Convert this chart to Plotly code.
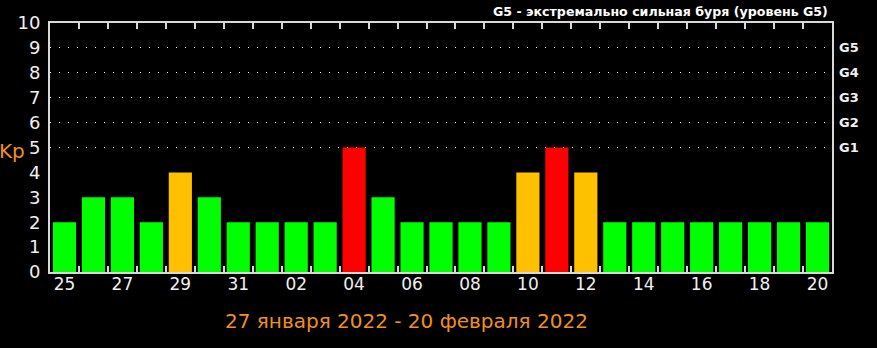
import plotly.graph_objects as go

dates = ["2022-01-25", "2022-01-26", "2022-01-27", "2022-01-28", "2022-01-29", "2022-01-30",
         "2022-01-31", "2022-02-01", "2022-02-02", "2022-02-03", "2022-02-04", "2022-02-05",
         "2022-02-06", "2022-02-07", "2022-02-08", "2022-02-09", "2022-02-10", "2022-02-11",
         "2022-02-12", "2022-02-13", "2022-02-14", "2022-02-15", "2022-02-16", "2022-02-17",
         "2022-02-18", "2022-02-19", "2022-02-20"]
kp = [2, 3, 3, 2, 4, 3, 2, 2, 2, 2, 5, 3, 2, 2, 2, 2, 4, 5, 4, 2, 2, 2, 2, 2, 2, 2, 2]
g_levels = [5, 6, 7, 8, 9]
g_labels = ["G1", "G2", "G3", "G4", "G5"]
y_ticks = list(range(0, 11))

GREEN, ORANGE, RED = "#00ff00", "#ffc000", "#ff0000"
ACCENT = "#f0901e"


def color_for(v):
    if v >= 5:
        return RED
    if v >= 4:
        return ORANGE
    return GREEN


fig = go.Figure()
fig.add_trace(go.Bar(
    x=dates, y=kp,
    marker=dict(color=[color_for(v) for v in kp], line=dict(width=0)),
    hoverinfo="x+y",
))
# invisible companion trace so the overlay axes (labels / G-levels) are drawn
fig.add_trace(go.Scatter(
    x=dates, y=kp, xaxis="x2", yaxis="y2",
    mode="markers", marker=dict(opacity=0), hoverinfo="skip",
))

axis_line = "#d8d8d8"
x_range = ["2022-01-24 12:00", "2022-02-20 12:00"]
fig.update_layout(
    width=877, height=348,
    paper_bgcolor="black", plot_bgcolor="black",
    margin=dict(l=50, r=45, t=17, b=76),
    showlegend=False,
    bargap=0.2,
    font=dict(family="DejaVu Sans", color="white"),
    xaxis=dict(
        type="date", range=x_range,
        tick0="2022-01-24 12:00", dtick=86400000,
        ticks="inside", ticklen=6, tickcolor=axis_line, tickwidth=1.5,
        showticklabels=False,
        showgrid=False, zeroline=False,
        showline=True, linecolor=axis_line, linewidth=2, mirror="allticks",
    ),
    xaxis2=dict(
        type="date", range=x_range, overlaying="x", side="bottom", anchor="y",
        tickvals=dates[::2], tickformat="%d", ticks="",
        tickfont=dict(size=17, color="#f0f0f0"),
        showgrid=False, zeroline=False, showline=False,
    ),
    yaxis=dict(
        range=[0, 10], tickvals=y_ticks, ticks="",
        tickfont=dict(size=18, color="#f0f0f0"),
        showgrid=False, zeroline=False,
        showline=True, linecolor=axis_line, linewidth=2, mirror=True,
        ticklabelstandoff=4,
    ),
    yaxis2=dict(
        overlaying="y", side="right", anchor="x2",
        range=[0, 10], tickvals=g_levels, ticktext=g_labels, ticks="",
        tickfont=dict(size=13, color="#f0f0f0", weight="bold"),
        showgrid=True, gridcolor="white", gridwidth=1, griddash="1px,8px",
        zeroline=False, showline=False, ticklabelstandoff=6,
    ),
)

fig.add_annotation(
    text="27 января 2022 - 20 февраля 2022",
    xref="paper", yref="paper", x=(406 - 50) / 782, y=-(322 - 272) / 255,
    xanchor="center", yanchor="middle", showarrow=False,
    font=dict(size=20, color=ACCENT),
)
fig.add_annotation(
    text="Kp",
    xref="paper", yref="paper", x=(27 - 50) / 782, y=(272 - 148) / 255,
    xanchor="right", yanchor="middle", showarrow=False,
    font=dict(size=20, color=ACCENT),
)
fig.add_annotation(
    text="G5 - экстремально сильная буря (уровень G5)",
    xref="paper", yref="paper", x=(830 - 50) / 782, y=1 + (17 - 15) / 255,
    xanchor="right", yanchor="bottom", showarrow=False,
    font=dict(size=12.6, color="white", weight="bold"),
)

fig.write_html("out.html")
